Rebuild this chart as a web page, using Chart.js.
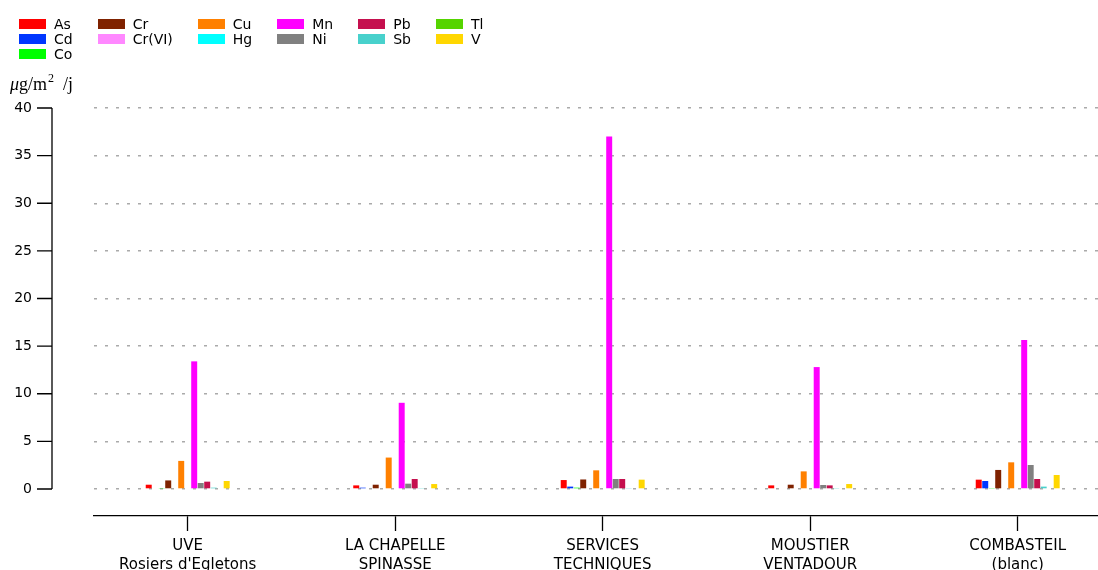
<!DOCTYPE html>
<html lang="fr">
<head>
  <meta charset="UTF-8">
  <title>Retombées atmosphériques - métaux</title>
  <script src="https://cdn.jsdelivr.net/npm/chart.js"></script>
  <style>
    body, html {
      width: 1098px;
      height: 570px;
      margin: 0;
      padding: 0;
      overflow: hidden;
      background: #fff;
      font-family: "DejaVu Sans", sans-serif;
    }
    .wrap { position: relative; width: 1098px; height: 570px; }
    #chart { position: absolute; left: 0; top: 0; }

    .legend {
      position: absolute;
      left: 19px;
      top: 16px;
      display: grid;
      grid-template-rows: repeat(3, 15.3px);
      column-gap: 25px;
      font-size: 14px;
      color: #000;
    }
    .legend-item { display: flex; align-items: center; white-space: nowrap; }
    .swatch { width: 27px; height: 10px; margin-right: 8px; }

    .unit {
      position: absolute;
      left: 10px;
      top: 75px;
      font-family: "Liberation Serif", serif;
      font-size: 18px;
      line-height: 1;
      color: #000;
      white-space: nowrap;
    }
    .unit sup { font-size: 12px; vertical-align: 8px; line-height: 0; margin-left: 1px; }
  </style>
</head>
<body>
  <div class="wrap">
    <canvas id="chart" width="1098" height="570"></canvas>
    <div class="legend" id="legend"></div>
    <div class="unit"><i>μ</i>g/m<sup>2</sup>&nbsp;&nbsp;/j</div>
  </div>

  <script>
    // sites (x axis)
    const categories = [
      ['UVE', "Rosiers d'Egletons"],
      ['LA CHAPELLE', 'SPINASSE'],
      ['SERVICES', 'TECHNIQUES'],
      ['MOUSTIER', 'VENTADOUR'],
      ['COMBASTEIL', '(blanc)']
    ];
    const yTicks = [0, 5, 10, 15, 20, 25, 30, 35, 40];

    // one array per element, values per site (µg/m²/j)
    const As   = [0.45, 0.38, 0.94, 0.38, 0.98];
    const Cd   = [0.00, 0.14, 0.25, 0.00, 0.84];
    const Co   = [0.05, 0.00, 0.14, 0.00, 0.10];
    const Cr   = [0.90, 0.45, 1.00, 0.45, 2.00];
    const CrVI = [0.00, 0.00, 0.00, 0.00, 0.00];
    const Cu   = [2.95, 3.30, 1.96, 1.85, 2.80];
    const Hg   = [0.00, 0.00, 0.00, 0.00, 0.00];
    const Mn   = [13.4, 9.05, 37.0, 12.8, 15.65];
    const Ni   = [0.63, 0.56, 1.05, 0.42, 2.52];
    const Pb   = [0.77, 1.05, 1.05, 0.38, 1.05];
    const Sb   = [0.14, 0.10, 0.05, 0.10, 0.25];
    const Tl   = [0.00, 0.00, 0.00, 0.00, 0.00];
    const V    = [0.84, 0.52, 0.98, 0.52, 1.47];

    const elements = ['As', 'Cd', 'Co', 'Cr', 'Cr(VI)', 'Cu', 'Hg', 'Mn', 'Ni', 'Pb', 'Sb', 'Tl', 'V'];
    const values = [As, Cd, Co, Cr, CrVI, Cu, Hg, Mn, Ni, Pb, Sb, Tl, V];
    const colors = ['#ff0000', '#0037ff', '#00ff00', '#7f2200', '#ff88ff', '#ff8000', '#00ffff',
                    '#ff00ff', '#808080', '#c5104e', '#48d1cc', '#55d400', '#ffd700'];

    // legend: 6 columns filled top to bottom, first column gets the extra item
    const legend = document.getElementById('legend');
    const nCol = 6;
    const base = Math.floor(elements.length / nCol);
    const extra = elements.length % nCol;
    let idx = 0;
    for (let c = 0; c < nCol; c++) {
      const rows = base + (c < extra ? 1 : 0);
      for (let r = 0; r < rows; r++, idx++) {
        const item = document.createElement('div');
        item.className = 'legend-item';
        item.style.gridColumn = c + 1;
        item.style.gridRow = r + 1;
        item.innerHTML = `<span class="swatch" style="background:${colors[idx]}"></span><span>${elements[idx]}</span>`;
        legend.appendChild(item);
      }
    }

    // y spine sits away from the plot, like the offset matplotlib spine
    const offsetYAxis = {
      id: 'offsetYAxis',
      afterDraw(chart) {
        const y = chart.scales.y;
        const ctx = chart.ctx;
        const x0 = 52;
        ctx.save();
        ctx.strokeStyle = '#000';
        ctx.lineWidth = 1.3;
        ctx.beginPath();
        ctx.moveTo(x0, y.getPixelForValue(yTicks[0]));
        ctx.lineTo(x0, y.getPixelForValue(yTicks[yTicks.length - 1]));
        yTicks.forEach(v => {
          const py = y.getPixelForValue(v);
          ctx.moveTo(x0 - 15, py);
          ctx.lineTo(x0, py);
        });
        ctx.stroke();
        ctx.restore();
      }
    };

    const ctx = document.getElementById('chart').getContext('2d');
    new Chart(ctx, {
      type: 'bar',
      data: {
        datasets: elements.map((name, i) => ({
          label: name,
          data: values[i].map((v, k) => ({ x: k, y: v })),
          backgroundColor: colors[i],
          borderWidth: 0,
          categoryPercentage: 0.407,
          barPercentage: 0.92
        }))
      },
      options: {
        responsive: false,
        animation: false,
        layout: { padding: { top: 108, left: 0, right: 0, bottom: 0 } },
        plugins: { legend: { display: false }, tooltip: { enabled: false } },
        scales: {
          x: {
            type: 'linear',
            min: -0.4516,
            max: 4.387,
            offset: false,
            afterFit: s => { s.height = 54; },
            afterBuildTicks: s => { s.ticks = categories.map((_, i) => ({ value: i })); },
            ticks: {
              callback: v => categories[v] || '',
              color: '#000',
              font: { family: 'DejaVu Sans', size: 15, lineHeight: 1.27 },
              padding: 6,
              maxRotation: 0,
              autoSkip: false
            },
            grid: { offset: false, drawOnChartArea: false, drawTicks: true, tickLength: 15, tickColor: '#000', tickWidth: 1.3, color: '#000' },
            border: { display: true, color: '#000', width: 1.3 }
          },
          y: {
            min: -2.835,
            max: 40,
            afterFit: s => { s.width = 94; },
            afterBuildTicks: s => { s.ticks = yTicks.map(v => ({ value: v })); },
            ticks: {
              color: '#000',
              font: { family: 'DejaVu Sans', size: 14 },
              padding: 4
            },
            grid: { drawTicks: true, tickLength: 58, tickColor: 'rgba(0,0,0,0)', color: '#aaaaaa', lineWidth: 1.4 },
            border: { display: false, dash: [3, 8] }
          }
        }
      },
      plugins: [offsetYAxis]
    });
  </script>
</body>
</html>
